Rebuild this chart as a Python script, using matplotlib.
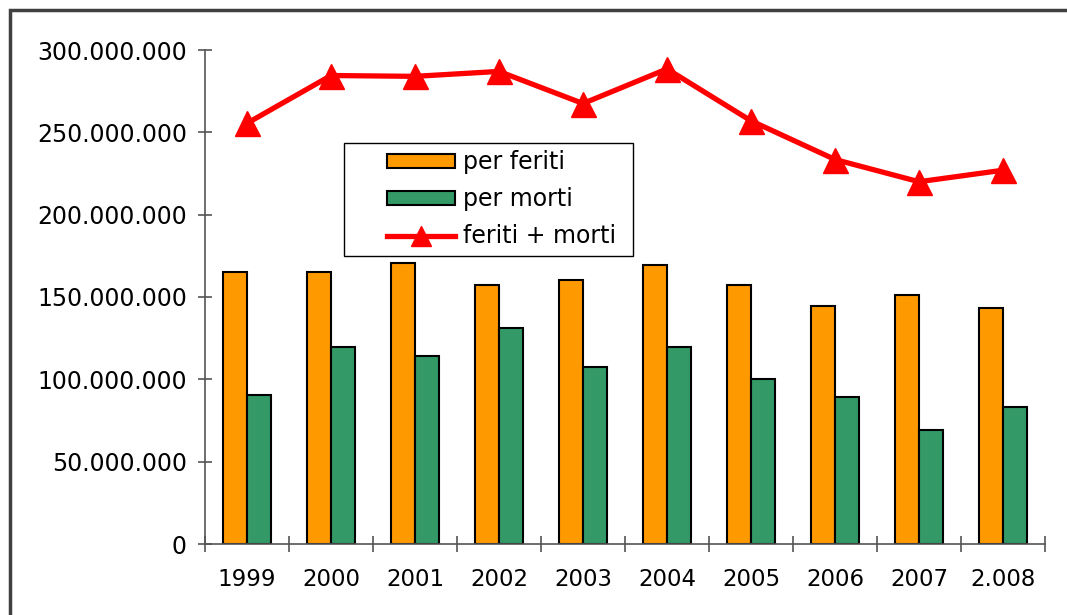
import numpy as np
import matplotlib.pyplot as plt
from matplotlib.ticker import FuncFormatter, FixedLocator
from matplotlib.patches import Rectangle

# Data
years = ['1999', '2000', '2001', '2002', '2003', '2004', '2005', '2006', '2007', '2.008']
feriti = [165.0e6, 165.0e6, 170.5e6, 157.0e6, 160.5e6, 169.5e6, 157.0e6, 144.5e6, 151.0e6, 143.5e6]
morti = [90.5e6, 119.5e6, 114.0e6, 131.0e6, 107.5e6, 119.5e6, 100.5e6, 89.5e6, 69.0e6, 83.5e6]
totale = [255.5e6, 284.5e6, 284.0e6, 287.0e6, 267.5e6, 288.5e6, 257.0e6, 233.5e6, 220.0e6, 227.0e6]

orange = '#FF9900'
green = '#339966'
red = '#FF0000'

fig = plt.figure(figsize=(10.67, 6.15), dpi=100)
ax = fig.add_axes([205 / 1067, 71 / 615, 840 / 1067, 494 / 615])

# outer chart frame
fig.patches.append(Rectangle((10 / 1067, -0.1), 1.2, (615 - 10) / 615 + 0.1,
                             transform=fig.transFigure, fill=False,
                             edgecolor='#404040', linewidth=2.5))

x = np.arange(len(years))
w = 0.286
b1 = ax.bar(x - w / 2, feriti, w, color=orange, edgecolor='black', linewidth=1.5)
b2 = ax.bar(x + w / 2, morti, w, color=green, edgecolor='black', linewidth=1.5)
l1, = ax.plot(x, totale, color=red, linewidth=3.8, marker='^', markersize=18)

ax.set_xlim(-0.5, len(years) - 0.5)
ax.set_ylim(0, 300e6)
ax.set_yticks(np.arange(0, 300e6 + 1, 50e6))
ax.yaxis.set_major_formatter(FuncFormatter(lambda v, p: f'{int(v):,}'.replace(',', '.')))

ax.set_xticks(x)
ax.set_xticklabels(years)
ax.xaxis.set_minor_locator(FixedLocator(np.arange(-0.5, len(years), 1.0)))
ax.tick_params(axis='x', which='major', length=0, pad=17, labelsize=16.5)
ax.tick_params(axis='x', which='minor', direction='inout', length=11, width=1.2, color='#555555')
ax.tick_params(axis='y', direction='inout', length=10, width=1.2, color='#555555', pad=8, labelsize=17)

for s in ['top', 'right']:
    ax.spines[s].set_visible(False)
for s in ['left', 'bottom']:
    ax.spines[s].set_color('#555555')
    ax.spines[s].set_linewidth(1.2)

# legend box drawn separately (wide padding like the original)
ax.add_patch(Rectangle(((344 - 205) / 840, (544 - 256) / 494), (633 - 344) / 840, (256 - 143) / 494,
                       transform=ax.transAxes, fill=True, facecolor='white',
                       edgecolor='black', linewidth=1.0, zorder=4))
leg = ax.legend([b1, b2, l1], ['per feriti', 'per morti', 'feriti + morti'],
                loc='upper left', bbox_to_anchor=((387 - 205) / 840, (544 - 150) / 494), fontsize=17,
                frameon=False, borderpad=0, handlelength=2.9, handleheight=0.55,
                labelspacing=0.56, handletextpad=0.3, borderaxespad=0)
leg.set_zorder(5)
leg.legend_handles[2].set_markersize(14)

fig.savefig('out.png', dpi=100)
